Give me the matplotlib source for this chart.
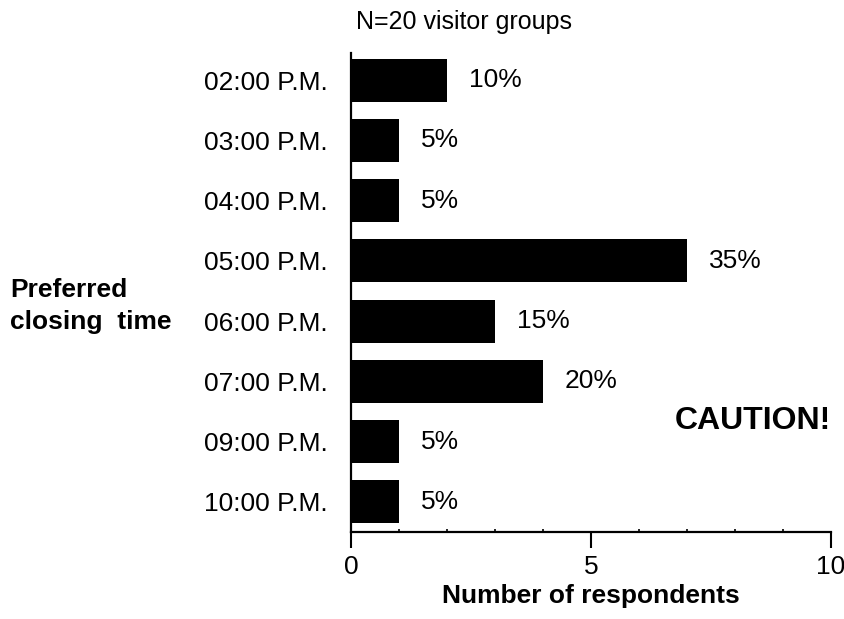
import matplotlib
matplotlib.use("Agg")
import matplotlib.pyplot as plt
from matplotlib.ticker import MultipleLocator

plt.rcParams['font.family'] = ['Liberation Sans', 'DejaVu Sans']

categories = ["02:00 P.M.", "03:00 P.M.", "04:00 P.M.", "05:00 P.M.",
              "06:00 P.M.", "07:00 P.M.", "09:00 P.M.", "10:00 P.M."]
counts = [2, 1, 1, 7, 3, 4, 1, 1]
percent_labels = ["10%", "5%", "5%", "35%", "15%", "20%", "5%", "5%"]
xticks = [0, 5, 10]

fig = plt.figure(figsize=(8.45, 6.19), dpi=100)
ax = fig.add_axes([351/845, 1 - 532/619, 480/845, (532 - 53)/619])

y = list(range(len(categories)))
ax.barh(y, counts, height=0.71, color='black')
for yi, c, lab in zip(y, counts, percent_labels):
    ax.annotate(lab, xy=(c, yi), xytext=(15.5, 0), textcoords='offset points',
                ha='left', va='center', fontsize=19)

ax.set_xlim(0, 10)
ax.set_ylim(7.5, -0.45)
ax.set_yticks(y)
ax.set_yticklabels(categories, fontsize=19)
ax.set_xticks(xticks)
ax.set_xticklabels([str(t) for t in xticks], fontsize=19)
ax.xaxis.set_minor_locator(MultipleLocator(1))
ax.tick_params(axis='y', length=0, pad=17)
ax.tick_params(axis='x', which='major', direction='out', length=11.5, width=1.5, pad=5)
ax.tick_params(axis='x', which='minor', direction='in', length=2.5, width=1.2)
for s in ['top', 'right']:
    ax.spines[s].set_visible(False)
for s in ['left', 'bottom']:
    ax.spines[s].set_linewidth(1.6)

ax.set_xlabel("Number of respondents", fontsize=19, fontweight='bold', labelpad=4)

fig.text(464/845, 1 - 22/619, "N=20 visitor groups", ha='center', va='center', fontsize=18)
fig.text(10/845, 1 - 306/619, "Preferred\nclosing  time", ha='left', va='center',
         fontsize=19, fontweight='bold', linespacing=1.38, multialignment='left')
fig.text(675/845, 1 - 421/619, "CAUTION!",
         ha='left', va='center', fontsize=23, fontweight='bold')

fig.savefig("out.png", dpi=100)
